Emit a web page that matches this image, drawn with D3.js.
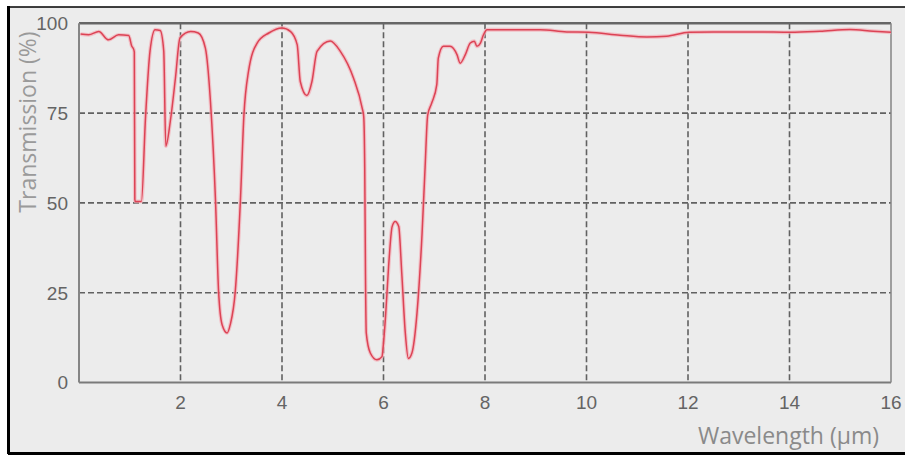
<!DOCTYPE html>
<html>
<head>
<meta charset="utf-8">
<script src="https://cdn.jsdelivr.net/npm/d3@7/dist/d3.min.js"></script>
<style>
  html, body { margin: 0; padding: 0; background: #ffffff; }
  svg { display: block; }
</style>
</head>
<body>
<svg id="chart" width="905" height="456"></svg>
<script>
// ---- data ----
const wavelength = [0.03,0.19,0.39,0.58,0.78,0.98,1.04,1.07,1.09,1.10,1.11,1.23,1.31,1.40,1.50,1.60,1.67,1.71,1.80,1.90,1.99,
  2.20,2.35,2.49,2.59,2.69,2.75,2.82,2.92,2.98,3.08,3.18,3.25,3.34,3.51,3.74,4.00,
  4.17,4.30,4.36,4.49,4.59,4.69,4.95,5.15,5.41,5.58,5.61,5.63,5.645,5.66,5.74,5.87,5.97,6.00,6.04,6.10,6.17,6.23,6.30,6.36,6.43,6.49,6.56,6.66,6.76,6.82,6.87,
  6.95,7.05,7.08,7.18,7.31,7.45,7.51,7.61,7.71,7.79,7.84,7.91,7.97,8.04,8.30,9.09,9.61,10.04,10.66,11.19,11.58,12.02,12.50,13.35,14.02,14.60,15.19,15.65,16.00];
const transmission = [97.0,96.8,97.7,95.4,96.8,96.6,93.6,93.0,92.0,51.0,50.4,50.4,73.6,92.3,98.2,98.0,92.3,65.8,72.8,84.7,95.9,
  97.7,97.3,93.1,78.3,50.5,25.5,16.1,13.8,16.1,25.5,50.5,74.5,86.6,94.5,97.3,98.7,
  97.7,94.0,83.8,79.9,83.8,92.2,95.1,92.2,84.7,76.4,74.1,60.0,30.0,13.8,8.2,6.3,7.2,11.0,18.3,32.2,43.4,44.8,43.4,30.4,13.7,6.7,8.2,19.3,41.5,60.0,74.4,
  77.8,82.9,90.3,93.6,93.6,91.2,88.9,91.2,94.5,95.0,93.6,94.5,96.8,98.2,98.2,98.2,97.6,97.5,96.7,96.2,96.4,97.5,97.6,97.6,97.5,97.8,98.3,97.8,97.5];
const xTicks = [2,4,6,8,10,12,14,16];
const yTicks = [0,25,50,75,100];
const xGrid = [2,4,6,8,10,12,14];
const yGrid = [25,50,75];

const svg = d3.select("#chart");

// outer panel and frame
svg.append("rect").attr("x",9).attr("y",7).attr("width",896).attr("height",446).attr("fill","#ececec");
svg.append("line").attr("x1",8.5).attr("x2",8.5).attr("y1",6).attr("y2",454).attr("stroke","#000").attr("stroke-width",3);
svg.append("line").attr("x1",8).attr("x2",905).attr("y1",7).attr("y2",7).attr("stroke","#000").attr("stroke-width",1.5);
svg.append("line").attr("x1",8).attr("x2",905).attr("y1",453.5).attr("y2",453.5).attr("stroke","#000").attr("stroke-width",3);

const x = d3.scaleLinear().domain([0,16]).range([79,891]);
const y = d3.scaleLinear().domain([0,100]).range([382.5,23.3]);

const g = svg.append("g");

// grid
g.selectAll("line.vg").data(xGrid).join("line").attr("class","vg")
  .attr("x1",d=>x(d)).attr("x2",d=>x(d)).attr("y1",y(100)).attr("y2",y(0))
  .attr("stroke","#616161").attr("stroke-width",1.6).attr("stroke-dasharray","6,3");
g.selectAll("line.hg").data(yGrid).join("line").attr("class","hg")
  .attr("x1",x(0)).attr("x2",x(16)).attr("y1",d=>y(d)).attr("y2",d=>y(d))
  .attr("stroke","#616161").attr("stroke-width",1.6).attr("stroke-dasharray","6,3");

// frame
g.append("line").attr("x1",x(0)).attr("x2",x(16)).attr("y1",y(100)).attr("y2",y(100)).attr("stroke","#666").attr("stroke-width",2.5);
g.append("line").attr("x1",x(0)).attr("x2",x(16)).attr("y1",y(0)).attr("y2",y(0)).attr("stroke","#7a7a7a").attr("stroke-width",2);
g.append("line").attr("x1",x(0)).attr("x2",x(0)).attr("y1",y(100)).attr("y2",y(0)).attr("stroke","#858585").attr("stroke-width",2);
g.append("line").attr("x1",x(16)).attr("x2",x(16)).attr("y1",y(100)).attr("y2",y(0)).attr("stroke","#858585").attr("stroke-width",1.5);

// curve
const pts = wavelength.map((w,i)=>[w, transmission[i]]);
const line = d3.line().x(d=>x(d[0])).y(d=>y(d[1])).curve(d3.curveMonotoneX);
g.append("path").attr("d",line(pts)).attr("fill","none").attr("stroke","#f4aeb6").attr("stroke-width",3.8).attr("stroke-opacity",0.7);
g.append("path").attr("d",line(pts)).attr("fill","none").attr("stroke","#dc4355").attr("stroke-width",1.5);

// tick labels
const tickFont = "'Liberation Sans Narrow', 'Liberation Sans', Arial, sans-serif";
g.selectAll("text.yt").data(yTicks).join("text").attr("class","yt")
  .attr("x",68).attr("y",d=>y(d)).attr("dy","0.36em").attr("text-anchor","end")
  .attr("font-family",tickFont).attr("font-size",19).attr("fill","#646464")
  .text(d=>d);
g.selectAll("text.xt").data(xTicks).join("text").attr("class","xt")
  .attr("x",d=>x(d)).attr("y",402).attr("dy","0.36em").attr("text-anchor","middle")
  .attr("font-family",tickFont).attr("font-size",19).attr("fill","#646464")
  .text(d=>d);

// axis titles
svg.append("text").attr("transform","translate(36,122) rotate(-90)").attr("text-anchor","middle")
  .attr("font-family","Open Sans, sans-serif").attr("font-size",23).attr("fill","#9a9a9a")
  .text("Transmission (%)");
svg.append("text").attr("x",879).attr("y",444).attr("text-anchor","end")
  .attr("font-family","Open Sans, sans-serif").attr("font-size",23).attr("fill","#8a8a8a")
  .text("Wavelength (\u00b5m)");
</script>
</body>
</html>
